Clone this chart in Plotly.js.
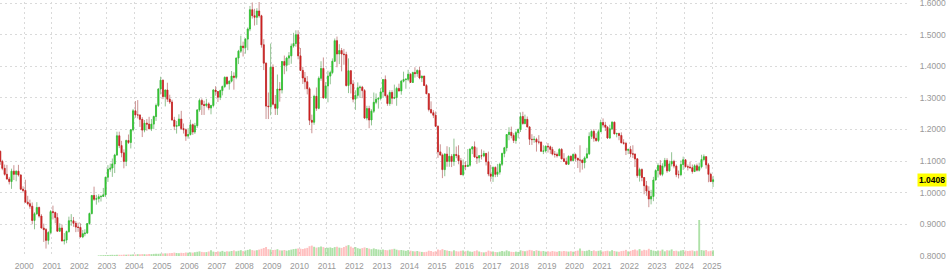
<!DOCTYPE html>
<html><head><meta charset="utf-8">
<script src="https://cdn.plot.ly/plotly-3.0.1.min.js"></script>
<style>html,body{margin:0;padding:0;background:#fff}#chart{width:950px;height:275px}</style>
</head><body><div id="chart"></div>
<script>
// Monthly EUR/USD candles, Jan 1999 .. Jan 2025
const startYear = 1999;
const opens = [
1.1790,1.1310,1.0990,1.0770,1.0580,1.0430,1.0350,1.0680,1.0580,1.0680,1.0560,1.0110,
1.0070,0.9700,0.9650,0.9570,0.9120,0.9330,0.9530,0.9260,0.8880,0.8830,0.8490,0.8740,
0.9400,0.9370,0.9210,0.8780,0.8880,0.8470,0.8500,0.8770,0.9110,0.9110,0.9030,0.8910,
0.8900,0.8600,0.8700,0.8720,0.9020,0.9340,0.9910,0.9790,0.9810,0.9870,0.9880,0.9930,
1.0490,1.0740,1.0780,1.0910,1.1190,1.1800,1.1490,1.1260,1.0990,1.1650,1.1590,1.1990,
1.2590,1.2460,1.2460,1.2320,1.1980,1.2200,1.2170,1.2020,1.2170,1.2410,1.2760,1.3280,
1.3560,1.3040,1.3250,1.2960,1.2870,1.2300,1.2100,1.2120,1.2330,1.2030,1.1990,1.1790,
1.1840,1.2150,1.1920,1.2120,1.2620,1.2920,1.2790,1.2760,1.2810,1.2680,1.2760,1.3250,
1.3200,1.3020,1.3230,1.3360,1.3650,1.3450,1.3530,1.3690,1.3650,1.4260,1.4480,1.4640,
1.4590,1.4860,1.5180,1.5790,1.5600,1.5550,1.5750,1.5600,1.4680,1.4100,1.2740,1.2720,
1.3970,1.2800,1.2670,1.3280,1.3250,1.4150,1.4030,1.4260,1.4330,1.4640,1.4720,1.5000,
1.4330,1.3870,1.3630,1.3510,1.3290,1.2290,1.2230,1.3050,1.2670,1.3620,1.3930,1.3000,
1.3380,1.3690,1.3800,1.4160,1.4810,1.4390,1.4500,1.4390,1.4370,1.3390,1.3860,1.3440,
1.2960,1.3080,1.3320,1.3340,1.3230,1.2360,1.2660,1.2300,1.2580,1.2860,1.2960,1.2990,
1.3190,1.3580,1.3070,1.2820,1.3170,1.2990,1.3010,1.3300,1.3220,1.3530,1.3580,1.3590,
1.3750,1.3490,1.3800,1.3770,1.3870,1.3630,1.3690,1.3390,1.3130,1.2630,1.2530,1.2450,
1.2100,1.1290,1.1190,1.0730,1.1220,1.0990,1.1150,1.0990,1.1210,1.1180,1.1010,1.0570,
1.0860,1.0830,1.0870,1.1380,1.1450,1.1130,1.1100,1.1170,1.1160,1.1240,1.0980,1.0590,
1.0520,1.0800,1.0580,1.0650,1.0900,1.1240,1.1420,1.1840,1.1910,1.1810,1.1650,1.1900,
1.2000,1.2410,1.2190,1.2320,1.2080,1.1690,1.1680,1.1690,1.1600,1.1600,1.1310,1.1320,
1.1470,1.1450,1.1370,1.1220,1.1210,1.1170,1.1370,1.1070,1.0990,1.0900,1.1150,1.1020,
1.1210,1.1090,1.1030,1.1030,1.0950,1.1100,1.1230,1.1780,1.1940,1.1720,1.1650,1.1930,
1.2220,1.2140,1.2070,1.1730,1.2020,1.2230,1.1860,1.1870,1.1810,1.1580,1.1560,1.1340,
1.1370,1.1230,1.1220,1.1070,1.0540,1.0730,1.0480,1.0220,1.0050,0.9800,0.9880,1.0400,
1.0700,1.0860,1.0580,1.0840,1.1020,1.0690,1.0910,1.0990,1.0840,1.0570,1.0570,1.0890,
1.1040,1.0820,1.0810,1.0790,1.0670,1.0850,1.0710,1.0820,1.1050,1.1140,1.0880,1.0580,
1.0350];
const highs = [
1.1905,1.1330,1.1040,1.0890,1.0880,1.0500,1.0760,1.0870,1.0700,1.0880,1.0580,1.0200,
1.0410,0.9900,0.9780,0.9690,0.9380,0.9700,0.9560,0.9320,0.9020,0.8880,0.8780,0.9450,
0.9590,0.9400,0.9350,0.9030,0.8990,0.8720,0.8800,0.9240,0.9320,0.9230,0.9100,0.9050,
0.9030,0.8820,0.8840,0.9040,0.9370,0.9930,1.0190,0.9930,0.9950,0.9930,1.0150,1.0500,
1.0870,1.0920,1.1080,1.1230,1.1930,1.1930,1.1640,1.1370,1.1680,1.1840,1.2010,1.2650,
1.2900,1.2930,1.2470,1.2390,1.2300,1.2330,1.2400,1.2330,1.2440,1.2820,1.3310,1.3670,
1.3580,1.3260,1.3480,1.3100,1.2940,1.2400,1.2270,1.2480,1.2590,1.2190,1.2030,1.2040,
1.2310,1.2190,1.2210,1.2640,1.2980,1.2980,1.2910,1.2970,1.2860,1.2780,1.3280,1.3370,
1.3210,1.3260,1.3390,1.3680,1.3680,1.3550,1.3850,1.3810,1.4280,1.4520,1.4970,1.4780,
1.4890,1.5230,1.5910,1.6020,1.5820,1.5840,1.6040,1.5630,1.4860,1.4120,1.3170,1.4720,
1.4060,1.3090,1.3740,1.3500,1.4170,1.4340,1.4300,1.4450,1.4720,1.5060,1.5140,1.5140,
1.4580,1.3980,1.3820,1.3690,1.3340,1.2470,1.3100,1.3330,1.3680,1.4160,1.4280,1.3500,
1.3860,1.3860,1.4250,1.4880,1.4940,1.4700,1.4580,1.4550,1.4460,1.4250,1.3870,1.3560,
1.3240,1.3490,1.3390,1.3380,1.3280,1.2750,1.2750,1.2640,1.3170,1.3140,1.3010,1.3310,
1.3590,1.3710,1.3110,1.3240,1.3240,1.3420,1.3350,1.3450,1.3570,1.3830,1.3620,1.3890,
1.3780,1.3830,1.3970,1.3900,1.3990,1.3700,1.3700,1.3440,1.3150,1.2890,1.2610,1.2570,
1.2130,1.1530,1.1240,1.1250,1.1470,1.1440,1.1220,1.1710,1.1460,1.1500,1.1100,1.1050,
1.0990,1.1380,1.1400,1.1460,1.1620,1.1430,1.1190,1.1370,1.1330,1.1260,1.1300,1.0880,
1.0830,1.0830,1.0910,1.0950,1.1270,1.1450,1.1850,1.2070,1.2090,1.1880,1.1960,1.2030,
1.2540,1.2560,1.2470,1.2410,1.2100,1.1850,1.1790,1.1740,1.1820,1.1620,1.1500,1.1490,
1.1570,1.1490,1.1450,1.1320,1.1270,1.1410,1.1410,1.1250,1.1110,1.1180,1.1180,1.1240,
1.1240,1.1100,1.1500,1.1050,1.1150,1.1420,1.1910,1.1970,1.2010,1.1880,1.2000,1.2310,
1.2350,1.2240,1.2110,1.2150,1.2260,1.2250,1.1900,1.1900,1.1910,1.1690,1.1610,1.1390,
1.1480,1.1500,1.1240,1.1080,1.0790,1.0770,1.0490,1.0370,1.0200,1.0090,1.0500,1.0740,
1.0930,1.1030,1.0930,1.1100,1.1090,1.1010,1.1280,1.1040,1.0890,1.0700,1.1020,1.1140,
1.1050,1.0890,1.0980,1.0890,1.0900,1.0920,1.0950,1.1200,1.1210,1.1150,1.0940,1.0630,
1.0530];
const lows = [
1.1250,1.0880,1.0710,1.0540,1.0420,1.0260,1.0120,1.0400,1.0360,1.0510,1.0080,1.0000,
0.9690,0.9600,0.9490,0.9000,0.8840,0.9300,0.9210,0.8870,0.8440,0.8230,0.8360,0.8680,
0.9150,0.9030,0.8770,0.8760,0.8460,0.8360,0.8400,0.8730,0.8950,0.8920,0.8750,0.8760,
0.8580,0.8560,0.8620,0.8700,0.8990,0.9310,0.9740,0.9620,0.9690,0.9720,0.9870,0.9860,
1.0340,1.0660,1.0500,1.0620,1.1170,1.1410,1.1120,1.0770,1.0840,1.1540,1.1400,1.1940,
1.2370,1.2350,1.2080,1.1760,1.1910,1.1960,1.2010,1.1950,1.2010,1.2270,1.2710,1.3110,
1.2960,1.2730,1.2870,1.2810,1.2280,1.1980,1.1870,1.2100,1.1990,1.1870,1.1640,1.1710,
1.1810,1.1830,1.1860,1.2050,1.2560,1.2460,1.2460,1.2700,1.2610,1.2480,1.2700,1.3070,
1.2870,1.2930,1.3080,1.3310,1.3410,1.3260,1.3490,1.3260,1.3590,1.4070,1.4420,1.4310,
1.4400,1.4510,1.5110,1.5510,1.5290,1.5310,1.5540,1.4590,1.3880,1.2330,1.2330,1.2450,
1.2760,1.2460,1.2460,1.2880,1.3140,1.3750,1.3840,1.4040,1.4080,1.4590,1.4620,1.4220,
1.3860,1.3440,1.3270,1.3110,1.2140,1.1880,1.2150,1.2590,1.2640,1.3540,1.2970,1.2970,
1.2860,1.3430,1.3750,1.4140,1.3970,1.4070,1.3840,1.4050,1.3360,1.3150,1.3140,1.2860,
1.2620,1.2980,1.3000,1.2990,1.2330,1.2290,1.2040,1.2130,1.2520,1.2800,1.2660,1.2920,
1.3000,1.3040,1.2750,1.2750,1.2800,1.2960,1.2750,1.3200,1.3100,1.3490,1.3290,1.3530,
1.3480,1.3470,1.3640,1.3670,1.3590,1.3500,1.3380,1.3120,1.2570,1.2500,1.2360,1.2090,
1.1100,1.1180,1.0460,1.0520,1.0820,1.0820,1.0810,1.0850,1.1090,1.0900,1.0560,1.0520,
1.0710,1.0810,1.0820,1.1220,1.1100,1.0910,1.0950,1.1050,1.1120,1.0860,1.0520,1.0350,
1.0340,1.0490,1.0500,1.0570,1.0840,1.1120,1.1310,1.1660,1.1720,1.1570,1.1550,1.1720,
1.1920,1.2150,1.2160,1.2070,1.1510,1.1510,1.1580,1.1300,1.1530,1.1300,1.1220,1.1270,
1.1270,1.1230,1.1180,1.1110,1.1110,1.1160,1.1060,1.0980,1.0880,1.0880,1.0990,1.0980,
1.0990,1.0780,1.0640,1.0730,1.0770,1.1080,1.1190,1.1700,1.1610,1.1610,1.1600,1.1920,
1.2060,1.1950,1.1700,1.1700,1.1980,1.1850,1.1750,1.1660,1.1560,1.1520,1.1190,1.1220,
1.1120,1.1100,1.0810,1.0470,1.0350,1.0360,0.9950,0.9900,0.9540,0.9630,0.9730,1.0390,
1.0480,1.0530,1.0520,1.0790,1.0630,1.0660,1.0830,1.0770,1.0490,1.0450,1.0520,1.0720,
1.0800,1.0700,1.0760,1.0600,1.0650,1.0670,1.0670,1.0770,1.0990,1.0760,1.0330,1.0340,
1.0180];
const closes = [
1.1310,1.0990,1.0770,1.0580,1.0430,1.0350,1.0680,1.0580,1.0680,1.0560,1.0110,1.0070,
0.9700,0.9650,0.9570,0.9120,0.9330,0.9530,0.9260,0.8880,0.8830,0.8490,0.8740,0.9400,
0.9370,0.9210,0.8780,0.8880,0.8470,0.8500,0.8770,0.9110,0.9110,0.9030,0.8910,0.8900,
0.8600,0.8700,0.8720,0.9020,0.9340,0.9910,0.9790,0.9810,0.9870,0.9880,0.9930,1.0490,
1.0740,1.0780,1.0910,1.1190,1.1800,1.1490,1.1260,1.0990,1.1650,1.1590,1.1990,1.2590,
1.2460,1.2460,1.2320,1.1980,1.2200,1.2170,1.2020,1.2170,1.2410,1.2760,1.3280,1.3560,
1.3040,1.3250,1.2960,1.2870,1.2300,1.2100,1.2120,1.2330,1.2030,1.1990,1.1790,1.1840,
1.2150,1.1920,1.2120,1.2620,1.2920,1.2790,1.2760,1.2810,1.2680,1.2760,1.3250,1.3200,
1.3020,1.3230,1.3360,1.3650,1.3450,1.3530,1.3690,1.3650,1.4260,1.4480,1.4640,1.4590,
1.4860,1.5180,1.5790,1.5600,1.5550,1.5750,1.5600,1.4680,1.4100,1.2740,1.2720,1.3970,
1.2800,1.2670,1.3280,1.3250,1.4150,1.4030,1.4260,1.4330,1.4640,1.4720,1.5000,1.4330,
1.3870,1.3630,1.3510,1.3290,1.2290,1.2230,1.3050,1.2670,1.3620,1.3930,1.3000,1.3380,
1.3690,1.3800,1.4160,1.4810,1.4390,1.4500,1.4390,1.4370,1.3390,1.3860,1.3440,1.2960,
1.3080,1.3320,1.3340,1.3230,1.2360,1.2660,1.2300,1.2580,1.2860,1.2960,1.2990,1.3190,
1.3580,1.3070,1.2820,1.3170,1.2990,1.3010,1.3300,1.3220,1.3530,1.3580,1.3590,1.3750,
1.3490,1.3800,1.3770,1.3870,1.3630,1.3690,1.3390,1.3130,1.2630,1.2530,1.2450,1.2100,
1.1290,1.1190,1.0730,1.1220,1.0990,1.1150,1.0990,1.1210,1.1180,1.1010,1.0570,1.0860,
1.0830,1.0870,1.1380,1.1450,1.1130,1.1100,1.1170,1.1160,1.1240,1.0980,1.0590,1.0520,
1.0800,1.0580,1.0650,1.0900,1.1240,1.1420,1.1840,1.1910,1.1810,1.1650,1.1900,1.2000,
1.2410,1.2190,1.2320,1.2080,1.1690,1.1680,1.1690,1.1600,1.1600,1.1310,1.1320,1.1470,
1.1450,1.1370,1.1220,1.1210,1.1170,1.1370,1.1070,1.0990,1.0900,1.1150,1.1020,1.1210,
1.1090,1.1030,1.1030,1.0950,1.1100,1.1230,1.1780,1.1940,1.1720,1.1650,1.1930,1.2220,
1.2140,1.2070,1.1730,1.2020,1.2230,1.1860,1.1870,1.1810,1.1580,1.1560,1.1340,1.1370,
1.1230,1.1220,1.1070,1.0540,1.0730,1.0480,1.0220,1.0050,0.9800,0.9880,1.0400,1.0700,
1.0860,1.0580,1.0840,1.1020,1.0690,1.0910,1.0990,1.0840,1.0570,1.0570,1.0890,1.1040,
1.0820,1.0810,1.0790,1.0670,1.0850,1.0710,1.0820,1.1050,1.1140,1.0880,1.0580,1.0350,
1.0408];
// relative monthly volume (no volume data before Sep 2002)
const volumes = [
0,0,0,0,0,0,0,0,0,0,0,0,
0,0,0,0,0,0,0,0,0,0,0,0,
0,0,0,0,0,0,0,0,0,0,0,0,
0,0,0,0,0,0,0,0,0.6,0.8,0.9,1.0,
1.0,1.1,1.2,1.1,1.3,1.2,1.2,1.4,1.3,1.5,1.4,1.6,
1.6,1.8,1.7,1.9,1.8,1.7,2.0,1.9,2.1,2.3,2.2,2.4,
2.5,2.7,2.6,2.9,3.1,3.4,3.0,2.8,3.2,3.0,3.5,3.3,
3.6,3.4,3.8,4.2,4.6,4.1,3.8,3.9,4.5,5.8,4.4,4.0,
4.6,4.3,5.1,4.2,4.8,4.5,5.0,5.6,4.7,5.2,5.8,4.9,
5.5,6.1,6.7,5.9,5.4,5.8,6.4,7.2,8.0,9.1,6.8,6.5,
5.9,6.2,6.8,5.7,5.5,6.0,5.3,5.8,6.4,6.9,7.2,7.5,
7.3,7.0,7.6,8.1,9.8,10.4,9.2,8.4,8.8,9.5,8.9,8.0,
8.3,8.6,8.0,8.9,9.2,8.4,8.1,9.0,10.2,10.9,9.4,8.2,
9.0,7.8,7.2,7.9,8.6,8.0,7.4,6.8,7.6,6.9,6.5,6.2,
6.6,6.0,5.7,6.4,6.7,7.2,6.3,5.8,6.0,5.6,5.2,5.9,
5.3,4.8,4.6,5.0,4.4,4.1,3.9,4.2,5.3,5.0,4.2,4.8,
6.6,5.8,6.9,5.9,5.4,5.0,4.6,5.7,4.8,4.5,5.2,5.5,
4.8,5.3,4.6,4.2,4.9,5.6,4.5,3.9,3.6,4.1,5.4,4.7,
4.4,4.0,3.8,4.3,4.9,4.5,5.6,4.8,4.2,4.0,4.4,4.1,
5.7,5.1,4.8,5.3,6.1,5.6,4.9,5.8,5.2,4.7,5.0,4.4,
4.8,4.3,5.0,4.5,4.2,4.9,4.6,5.1,4.7,4.4,4.8,4.3,
5.0,5.4,7.4,5.2,4.9,5.3,6.1,5.0,5.6,4.8,5.2,5.7,
4.6,4.9,5.3,4.7,5.8,5.0,4.5,4.3,4.9,5.2,6.1,4.6,
5.1,6.0,6.6,5.6,6.9,5.3,6.2,5.8,7.2,6.1,5.4,5.0,
5.6,5.2,6.4,4.7,5.8,5.5,6.6,4.9,5.3,4.6,5.5,5.9,
5.4,5.0,5.2,5.6,4.8,5.3,36.0,5.9,5.5,6.0,4.7,5.2,
5.6];
const tickYears = ['2000','2001','2002','2003','2004','2005','2006','2007','2008','2009','2010','2011','2012',
  '2013','2014','2015','2016','2017','2018','2019','2020','2021','2022','2023','2024','2025'];
const priceTicks = [0.8, 0.9, 1.0, 1.1, 1.2, 1.3, 1.4, 1.5, 1.6];

const n = closes.length;
const dates = [];
for (let i = 0; i < n; i++) {
  const y = startYear + Math.floor(i / 12), m = i % 12 + 1;
  dates.push(y + '-' + String(m).padStart(2, '0') + '-15');
}
const bodyHigh = opens.map((o, i) => Math.max(o, closes[i]));
const bodyLow = opens.map((o, i) => Math.min(o, closes[i]));
const volColors = opens.map((o, i) => closes[i] >= o ? 'rgba(120,205,110,0.6)' : 'rgba(255,140,140,0.55)');

const UP = '#2fc62f', DOWN = '#cc2020';
const traces = [
  { type: 'bar', x: dates, y: volumes, yaxis: 'y2', marker: { color: volColors, line: { width: 0 } }, hoverinfo: 'skip' },
  { type: 'candlestick', x: dates, open: opens, high: highs, low: lows, close: closes,
    increasing: { line: { color: 'rgba(110,175,110,0.75)', width: 1 }, fillcolor: 'rgba(110,175,110,0.75)' },
    decreasing: { line: { color: 'rgba(185,110,110,0.75)', width: 1 }, fillcolor: 'rgba(185,110,110,0.75)' },
    whiskerwidth: 0, hoverinfo: 'skip' },
  { type: 'candlestick', x: dates, open: opens, high: bodyHigh, low: bodyLow, close: closes,
    increasing: { line: { color: UP, width: 0.5 }, fillcolor: UP },
    decreasing: { line: { color: DOWN, width: 0.5 }, fillcolor: DOWN },
    whiskerwidth: 0, hoverinfo: 'skip' }
];
const gridCol = '#dadada';
const layout = {
  width: 950, height: 275,
  margin: { l: 0, r: 41, t: 2, b: 19 },
  paper_bgcolor: '#fff', plot_bgcolor: '#fff',
  showlegend: false, hovermode: false, bargap: 0.1,
  font: { family: 'Liberation Sans, Arial, sans-serif', size: 8, color: '#999' },
  xaxis: {
    type: 'date', range: ['1999-02-12', '2032-03-01'],
    tickmode: 'array', tickvals: tickYears.map(y => y + '-01-01'), ticktext: tickYears,
    showgrid: true, gridcolor: gridCol, griddash: '2px,3px', gridwidth: 1,
    zeroline: false, showline: false, ticks: '', ticklabelstandoff: 3,
    tickfont: { size: 8.5, color: '#999' },
    rangeslider: { visible: false }, fixedrange: true
  },
  yaxis: {
    side: 'right', range: [0.7995, 1.6035],
    tickmode: 'array', tickvals: priceTicks, ticktext: priceTicks.map(v => v.toFixed(4)),
    showgrid: true, gridcolor: gridCol, griddash: '2px,3px', gridwidth: 1,
    zeroline: false, showline: false, ticks: 'outside', ticklen: 8, tickcolor: 'rgba(0,0,0,0)',
    ticklabeloverflow: 'allow',
    tickfont: { size: 8.5, color: '#999' }, fixedrange: true
  },
  yaxis2: { overlaying: 'y', range: [0, 254], visible: false, fixedrange: true },
  annotations: [{
    xref: 'paper', x: 1, xanchor: 'left', xshift: 8, yref: 'y', y: closes[n - 1],
    text: '<b>' + closes[n - 1].toFixed(4) + '</b>', showarrow: false,
    bgcolor: '#ffff00', borderpad: 1, font: { size: 8.5, color: '#000' }
  }]
};
Plotly.newPlot('chart', traces, layout, { staticPlot: true, displayModeBar: false });
</script></body></html>
